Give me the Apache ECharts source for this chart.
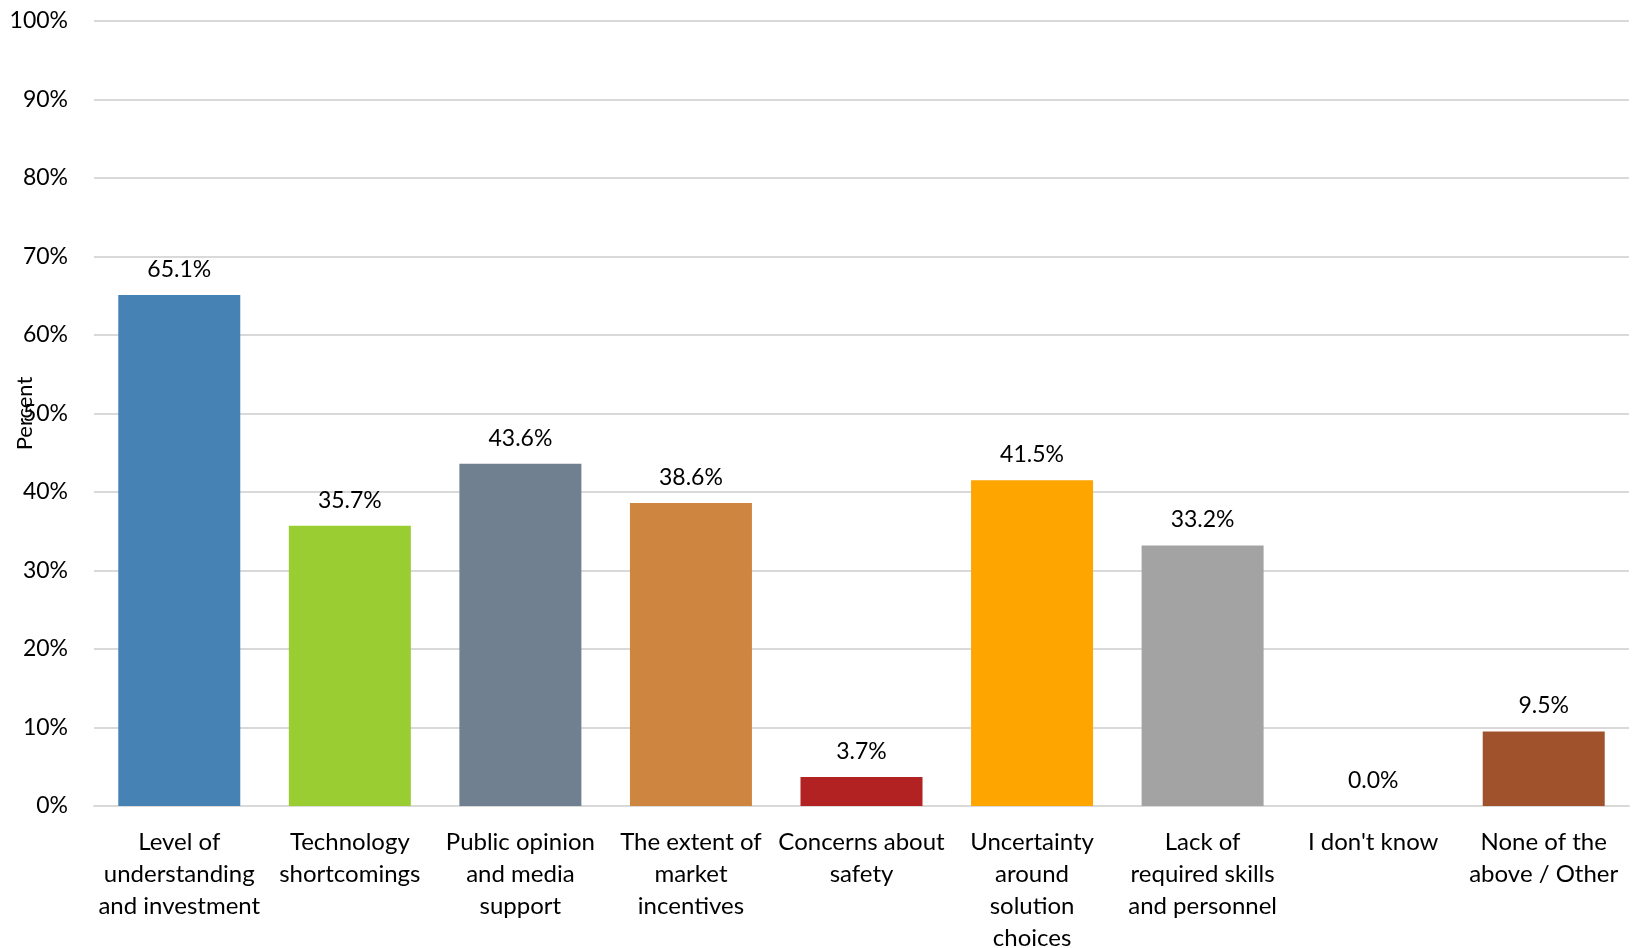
<!DOCTYPE html>
<html>
<head>
<meta charset="utf-8">
<script src="https://cdn.jsdelivr.net/npm/echarts@6/dist/echarts.min.js"></script>
<style>html,body{margin:0;padding:0;background:#fff;}#c{width:1632px;height:948px;}</style>
</head>
<body>
<div id="c"></div>
<script>
const categories = [
  "Level of\nunderstanding\nand investment",
  "Technology\nshortcomings",
  "Public opinion\nand media\nsupport",
  "The extent of\nmarket\nincentives",
  "Concerns about\nsafety",
  "Uncertainty\naround\nsolution\nchoices",
  "Lack of\nrequired skills\nand personnel",
  "I don't know",
  "None of the\nabove / Other"
];
const values = [65.1, 35.7, 43.6, 38.6, 3.7, 41.5, 33.2, 0.0, 9.5];
const barColors = ["#4682B4", "#9ACD32", "#708090", "#CD853F", "#B22222", "#FFA500", "#A3A3A3", "#D3D3D3", "#A0522D"];
const yTicks = [0, 10, 20, 30, 40, 50, 60, 70, 80, 90, 100];

const FONT = "Lato";
const chart = echarts.init(document.getElementById('c'));
chart.setOption({
  animation: false,
  textStyle: { fontFamily: FONT },
  grid: { left: 94, right: 3, top: 21, bottom: 142, containLabel: false, outerBoundsMode: 'none' },
  xAxis: {
    type: 'category',
    data: categories,
    axisLine: { lineStyle: { color: '#D9D9D9', width: 2 } },
    axisTick: { show: false },
    axisLabel: { color: '#000', fontSize: 24, fontFamily: FONT, lineHeight: 32, margin: 20, interval: 0 }
  },
  yAxis: {
    type: 'value',
    min: 0, max: 100, interval: 10,
    name: 'Percent',
    nameLocation: 'middle',
    nameGap: 58,
    nameMoveOverlap: false,
    nameTextStyle: { color: '#000', fontSize: 22, fontFamily: FONT },
    axisLine: { show: false },
    axisTick: { show: false },
    splitLine: { lineStyle: { color: '#D9D9D9', width: 2 } },
    axisLabel: { color: '#000', fontSize: 23, fontFamily: FONT, margin: 26,
      formatter: v => yTicks.includes(v) ? v + '%' : '' }
  },
  series: [{
    type: 'bar',
    data: values.map((v, i) => ({ value: v, itemStyle: { color: barColors[i] } })),
    barWidth: 122,
    label: { show: true, position: 'top', distance: 14, color: '#000', fontSize: 23, fontFamily: FONT,
      formatter: p => p.value.toFixed(1) + '%' }
  }]
});
</script>
</body>
</html>
